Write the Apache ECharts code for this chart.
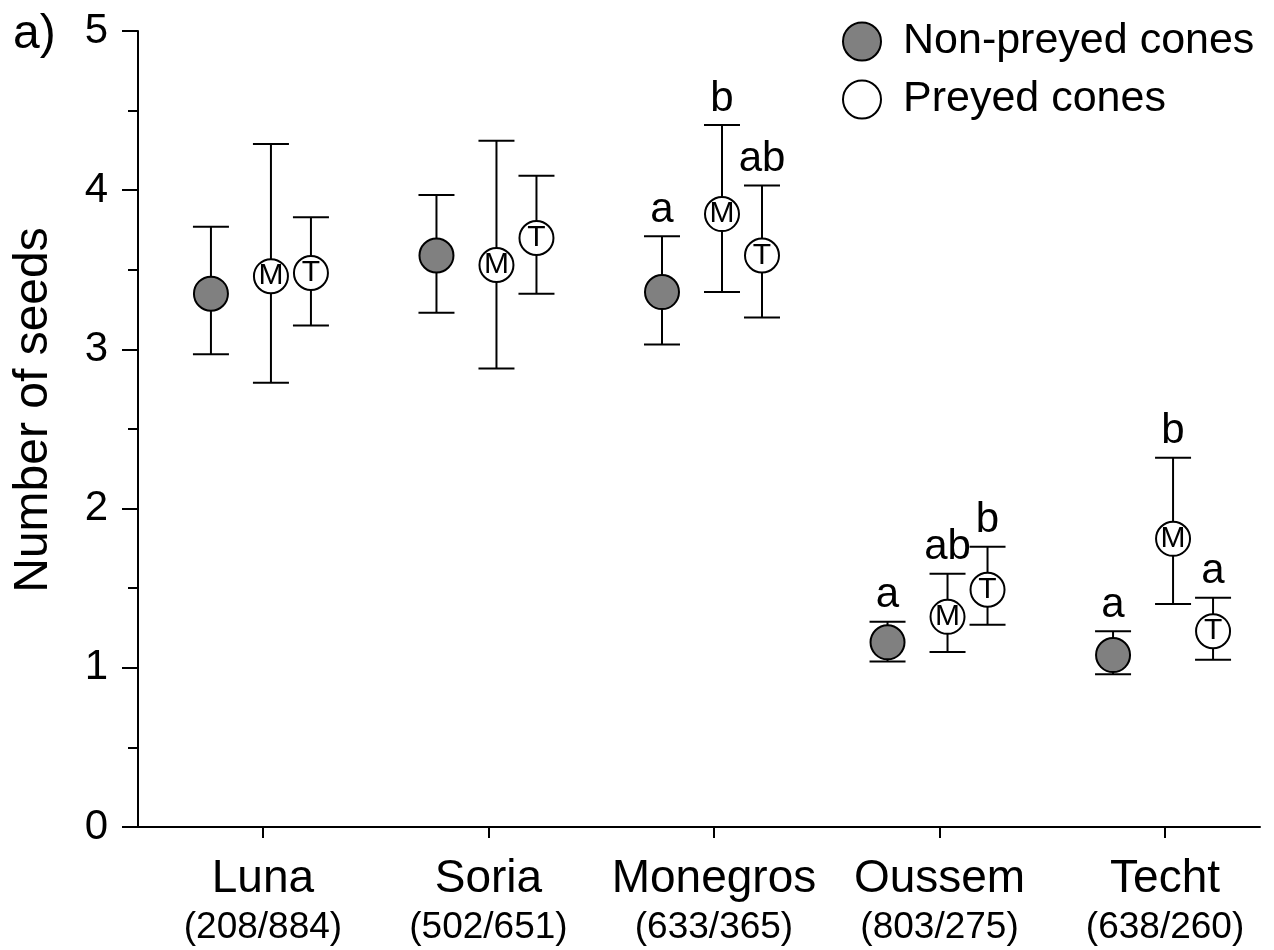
<!DOCTYPE html>
<html>
<head>
<meta charset="utf-8">
<script src="https://cdn.jsdelivr.net/npm/echarts@6/dist/echarts.min.js"></script>
<style>
  html, body { margin: 0; padding: 0; background: #fff; }
  #chart { width: 1274px; height: 950px; }
</style>
</head>
<body>
<div id="chart"></div>
<script>
// ---- data ----
const categories = ['Luna', 'Soria', 'Monegros', 'Oussem', 'Techt'];
const sampleSizes = ['(208/884)', '(502/651)', '(633/365)', '(803/275)', '(638/260)'];

const nonPreyedMean = [3.35, 3.59, 3.36, 1.16, 1.08];
const nonPreyedLow  = [2.97, 3.23, 3.03, 1.04, 0.96];
const nonPreyedHigh = [3.77, 3.97, 3.71, 1.29, 1.23];

const preyedMMean = [3.46, 3.53, 3.85, 1.32, 1.81];
const preyedMLow  = [2.79, 2.88, 3.36, 1.10, 1.40];
const preyedMHigh = [4.29, 4.31, 4.41, 1.59, 2.32];

const preyedTMean = [3.48, 3.70, 3.59, 1.49, 1.23];
const preyedTLow  = [3.15, 3.35, 3.20, 1.27, 1.05];
const preyedTHigh = [3.83, 4.09, 4.03, 1.76, 1.44];

const sigNonPreyed = ['', '', 'a', 'a', 'a'];
const sigPreyedM   = ['', '', 'b', 'ab', 'b'];
const sigPreyedT   = ['', '', 'ab', 'b', 'a'];

const yTicks = [0, 1, 2, 3, 4, 5];

// ---- chart ----
const FONT = "'Liberation Sans', Arial, Helvetica, sans-serif";
const chart = echarts.init(document.getElementById('chart'), null, { renderer: 'canvas' });

const groups = [
  { name: 'Non-preyed cones', mean: nonPreyedMean, low: nonPreyedLow, high: nonPreyedHigh, sig: sigNonPreyed, dx: -52, fill: '#808080', letter: '' },
  { name: 'Preyed cones', mean: preyedMMean, low: preyedMLow, high: preyedMHigh, sig: sigPreyedM, dx: 8, fill: '#ffffff', letter: 'M' },
  { name: 'Preyed cones', mean: preyedTMean, low: preyedTLow, high: preyedTHigh, sig: sigPreyedT, dx: 48, fill: '#ffffff', letter: 'T' }
];

const series = [];
groups.forEach((g, gi) => {
  series.push({
    type: 'custom',
    name: 'err' + gi,
    z: 2,
    silent: true,
    data: g.low.map((lo, i) => [i, lo, g.high[i]]),
    renderItem: function (params, api) {
      const i = api.value(0);
      const pLo = api.coord([i, api.value(1)]);
      const pHi = api.coord([i, api.value(2)]);
      const x = pLo[0] + g.dx;
      const hw = 18;
      const ls = { stroke: '#000', lineWidth: 2 };
      const children = [
        { type: 'line', shape: { x1: x, y1: pHi[1], x2: x, y2: pLo[1] }, style: ls },
        { type: 'line', shape: { x1: x - hw, y1: pHi[1], x2: x + hw, y2: pHi[1] }, style: ls },
        { type: 'line', shape: { x1: x - hw, y1: pLo[1], x2: x + hw, y2: pLo[1] }, style: ls }
      ];
      const s = g.sig[params.dataIndex];
      if (s) {
        children.push({
          type: 'text',
          style: {
            text: s, x: x, y: pHi[1] - 5,
            align: 'center', verticalAlign: 'bottom',
            fontSize: 42, fontFamily: FONT, fill: '#000'
          }
        });
      }
      return { type: 'group', children: children };
    }
  });
});
groups.forEach((g) => {
  series.push({
    type: 'scatter',
    name: g.name,
    z: 3,
    symbol: 'circle',
    symbolSize: 34,
    symbolOffset: [g.dx, 0],
    itemStyle: { color: g.fill, borderColor: '#000', borderWidth: 2, opacity: 1 },
    label: {
      show: !!g.letter,
      position: 'inside',
      formatter: g.letter,
      fontSize: 30,
      fontFamily: FONT,
      color: '#000'
    },
    emphasis: { disabled: true },
    data: g.mean.map((v, i) => [i, v])
  });
});

const option = {
  animation: false,
  backgroundColor: '#fff',
  title: {
    text: 'a)', left: 8, top: 6,
    textStyle: { fontSize: 48, fontWeight: 'normal', fontFamily: FONT, color: '#000' }
  },
  legend: {
    orient: 'vertical',
    left: 837, top: 15,
    itemWidth: 38, itemHeight: 38, itemGap: 15,
    icon: 'circle',
    selectedMode: false,
    data: ['Non-preyed cones', 'Preyed cones'],
    itemStyle: { borderColor: '#000', borderWidth: 2 },
    textStyle: { fontSize: 43, fontFamily: FONT, color: '#000', lineHeight: 38, padding: [0, 0, 0, 17] }
  },
  grid: { left: 138, right: 14, top: 31, bottom: 123, containLabel: false, outerBoundsMode: 'none' },
  xAxis: {
    type: 'value',
    min: -0.554, max: 4.421,
    splitLine: { show: false },
    axisLine: { show: true, onZero: false, lineStyle: { color: '#000', width: 2 } },
    axisTick: { show: true, customValues: [0, 1, 2, 3, 4], length: 11, inside: false, lineStyle: { color: '#000', width: 2 } },
    axisLabel: {
      show: true,
      customValues: [0, 1, 2, 3, 4],
      margin: 29,
      formatter: function (v) {
        const i = Math.round(v);
        return '{n|' + categories[i] + '}\n{s|' + sampleSizes[i] + '}';
      },
      rich: {
        n: { fontSize: 46, lineHeight: 46, fontFamily: FONT, color: '#000' },
        s: { fontSize: 37, lineHeight: 52, fontFamily: FONT, color: '#000' }
      }
    }
  },
  yAxis: {
    type: 'value',
    min: yTicks[0], max: yTicks[yTicks.length - 1], interval: 1,
    name: 'Number of seeds',
    nameLocation: 'middle',
    nameRotate: 90,
    nameGap: 80,
    nameTextStyle: { fontSize: 48, fontFamily: FONT, color: '#000', padding: [0, 0, 0, 38] },
    splitLine: { show: false },
    axisLine: { show: true, onZero: false, lineStyle: { color: '#000', width: 2 } },
    axisTick: { show: true, length: 16, inside: false, lineStyle: { color: '#000', width: 2 } },
    minorTick: { show: true, splitNumber: 2, length: 10, lineStyle: { color: '#000', width: 2 } },
    axisLabel: { fontSize: 42, fontFamily: FONT, color: '#000', margin: 30 }
  },
  series: series
};
chart.setOption(option);
</script>
</body>
</html>
